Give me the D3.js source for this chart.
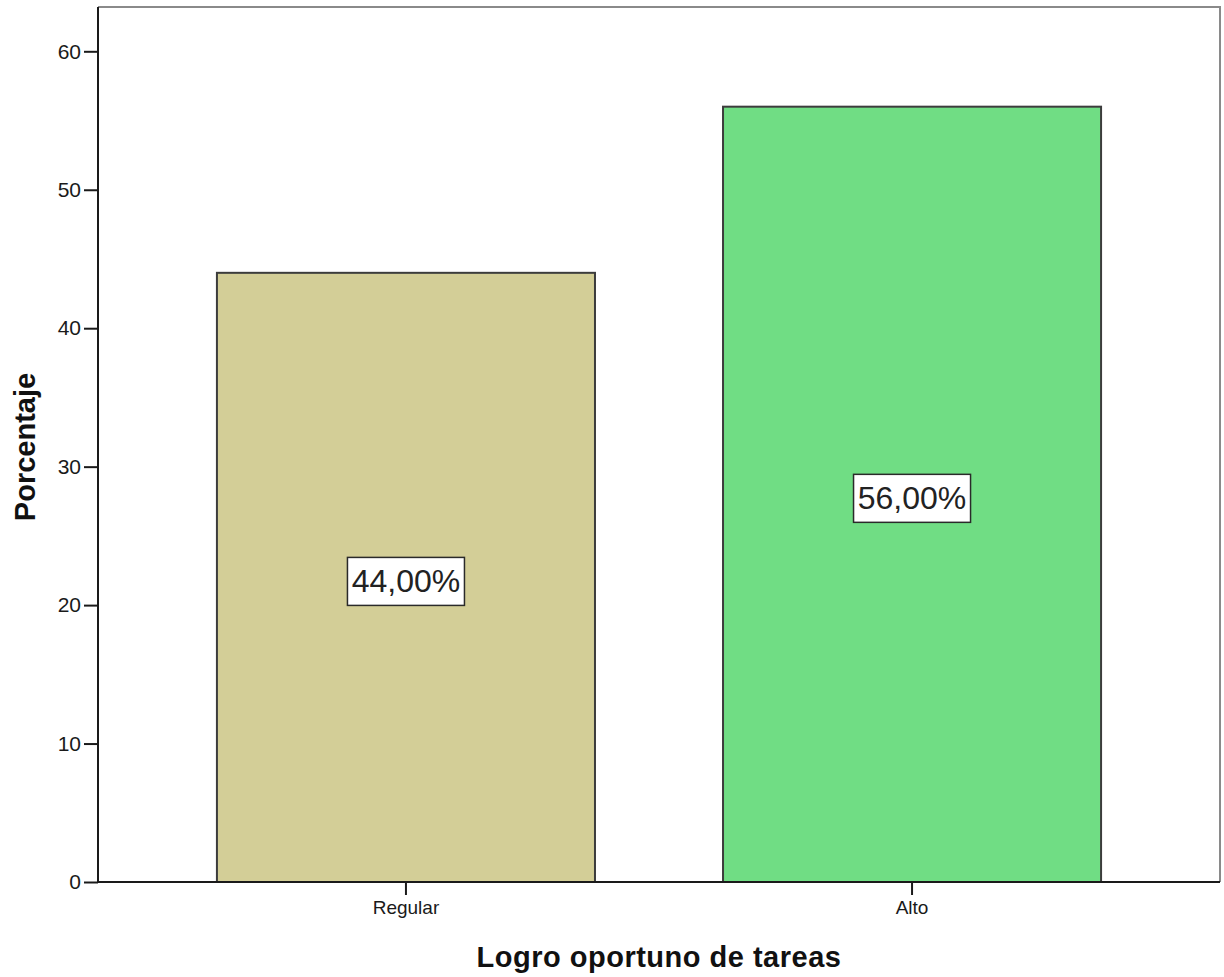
<!DOCTYPE html>
<html>
<head>
<meta charset="utf-8">
<script src="https://cdn.jsdelivr.net/npm/d3@7"></script>
<style>
  html, body { margin: 0; padding: 0; background: #fff; }
  svg { display: block; font-family: "Liberation Sans", Arial, sans-serif; }
</style>
</head>
<body>
<svg id="chart" width="1224" height="977"></svg>
<script>
// Categories and their percentages
const categories = ["Regular", "Alto"];
const percentages = [44.00, 56.00];
const barColors = ["#d3ce97", "#70dd84"];
const yTicks = [0, 10, 20, 30, 40, 50, 60];
const xTitle = "Logro oportuno de tareas";
const yTitle = "Porcentaje";

const svg = d3.select("#chart");
const plot = { left: 98, right: 1220, top: 7, bottom: 882 };

const x = d3.scaleBand()
  .domain(categories)
  .range([plot.left, plot.right])
  .paddingInner(0.253)
  .paddingOuter(0.235);

const y = d3.scaleLinear()
  .domain([0, 63.2])
  .range([plot.bottom, plot.top]);

// Plot frame (top and right edges in grey)
svg.append("path")
  .attr("d", `M${plot.left},${plot.top}H${plot.right}V${plot.bottom}`)
  .attr("fill", "none")
  .attr("stroke", "#8a8a8a")
  .attr("stroke-width", 2);

// Bars
const data = categories.map((c, i) => ({ cat: c, value: percentages[i], color: barColors[i] }));

svg.append("g").selectAll("rect")
  .data(data)
  .join("rect")
  .attr("x", d => x(d.cat))
  .attr("y", d => y(d.value))
  .attr("width", x.bandwidth())
  .attr("height", d => y(0) - y(d.value))
  .attr("fill", d => d.color)
  .attr("stroke", "#3c3c3c")
  .attr("stroke-width", 2);

// Y axis
const yAxis = svg.append("g")
  .attr("transform", `translate(${plot.left},0)`)
  .call(d3.axisLeft(y).tickValues(yTicks).tickSize(14).tickPadding(3).tickSizeOuter(0));
yAxis.select(".domain").remove();
yAxis.append("line")
  .attr("x1", 0).attr("x2", 0)
  .attr("y1", plot.top).attr("y2", plot.bottom)
  .attr("stroke", "#1a1a1a").attr("stroke-width", 2);
yAxis.selectAll(".tick line").attr("stroke", "#1a1a1a").attr("stroke-width", 2);
yAxis.selectAll(".tick text")
  .attr("fill", "#1a1a1a")
  .style("font-size", "21px");

// X axis
const xAxis = svg.append("g")
  .attr("transform", `translate(0,${plot.bottom})`)
  .call(d3.axisBottom(x).tickSize(13).tickPadding(6).tickSizeOuter(0));
xAxis.select(".domain").remove();
xAxis.append("line")
  .attr("x1", plot.left).attr("x2", plot.right)
  .attr("y1", 0).attr("y2", 0)
  .attr("stroke", "#1a1a1a").attr("stroke-width", 2);
xAxis.selectAll(".tick line").attr("stroke", "#1a1a1a").attr("stroke-width", 2);
xAxis.selectAll(".tick text")
  .attr("fill", "#1a1a1a")
  .style("font-size", "19px");

// Axis titles
svg.append("text")
  .attr("x", (plot.left + plot.right) / 2)
  .attr("y", 967)
  .attr("text-anchor", "middle")
  .style("font-size", "29px")
  .style("font-weight", "bold")
  .style("letter-spacing", "0.5px")
  .attr("fill", "#111")
  .text(xTitle);

svg.append("text")
  .attr("transform", `translate(35,447) rotate(-90)`)
  .attr("text-anchor", "middle")
  .style("font-size", "29px")
  .style("font-weight", "bold")
  .attr("fill", "#111")
  .text(yTitle);

// Value labels in boxes at the middle of each bar
const fmt = v => v.toFixed(2).replace(".", ",") + "%";
const labels = svg.append("g").selectAll("g")
  .data(data)
  .join("g")
  .attr("transform", d => `translate(${x(d.cat) + x.bandwidth() / 2},${y(d.value / 2) + 4})`);

labels.append("rect")
  .attr("x", -58.5)
  .attr("y", -24)
  .attr("width", 117)
  .attr("height", 48)
  .attr("fill", "#fff")
  .attr("stroke", "#2a2a2a")
  .attr("stroke-width", 1.5);

labels.append("text")
  .attr("text-anchor", "middle")
  .attr("y", 11)
  .style("font-size", "32px")
  .attr("fill", "#222")
  .text(d => fmt(d.value));
</script>
</body>
</html>
